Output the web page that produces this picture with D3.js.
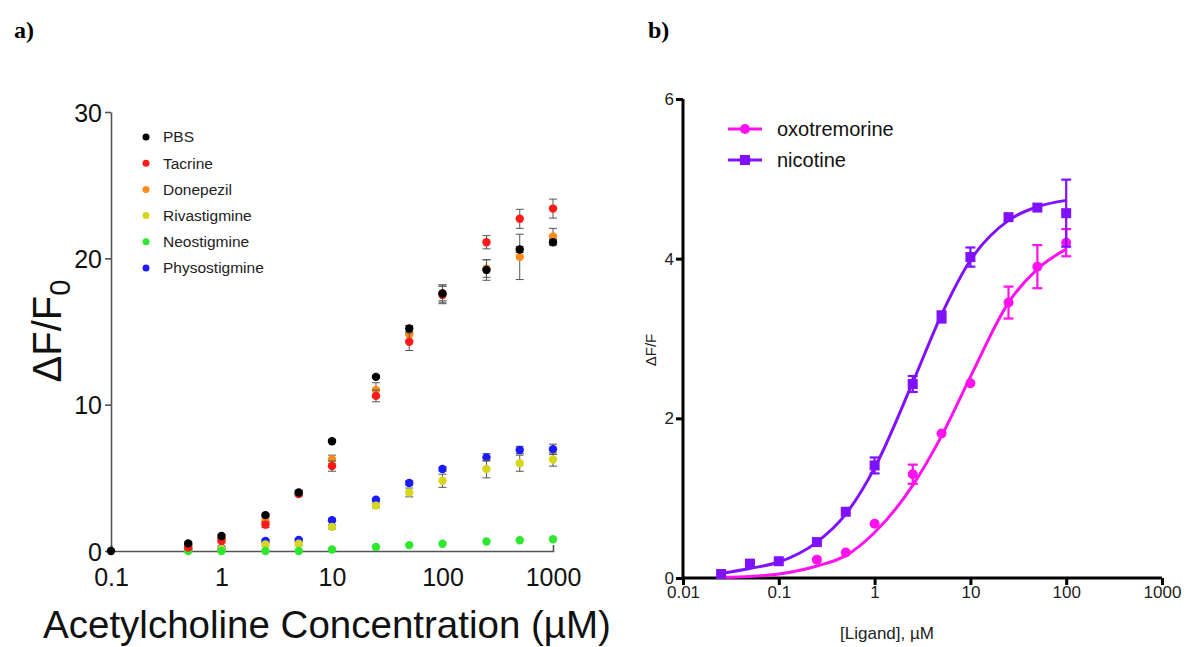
<!DOCTYPE html>
<html>
<head>
<meta charset="utf-8">
<script src="https://cdn.jsdelivr.net/npm/d3@7"></script>
<style>
  body { margin: 0; background: #fff; }
  svg { display: block; font-family: "Liberation Sans", Arial, sans-serif; }
</style>
</head>
<body>
<svg id="fig" width="1189" height="647"></svg>
<script>
// ---------- panel a data (acetylcholine, uM) ----------
var achConc = [0.1, 0.5, 1, 2.5, 5, 10, 25, 50, 100, 250, 500, 1000];
var pbsVals = [0, 0.52, 1.02, 2.45, 4.0, 7.5, 11.9, 15.2, 17.6, 19.2, 20.6, 21.1];
var pbsErr = [0, 0.1, 0.1, 0.1, 0.15, 0.1, 0.1, 0.2, 0.6, 0.7, 0.2, 0.2];
var tacVals = [null, 0.23, 0.7, 1.8, 3.9, 5.8, 10.6, 14.3, 17.5, 21.1, 22.7, 23.4];
var tacErr = [0, 0.1, 0.15, 0.2, 0.15, 0.35, 0.4, 0.6, 0.6, 0.45, 0.65, 0.65];
var donVals = [null, 0.35, 0.8, 2.05, 3.95, 6.25, 11.0, 14.8, 17.6, 19.3, 20.1, 21.5];
var donErr = [0, 0.1, 0.1, 0.2, 0.15, 0.3, 0.5, 0.4, 0.5, 0.6, 1.55, 0.55];
var rivVals = [null, 0.07, 0.15, 0.45, 0.5, 1.65, 3.1, 4.0, 4.8, 5.6, 6.0, 6.25];
var rivErr = [0, 0.05, 0.05, 0.1, 0.1, 0.15, 0.15, 0.3, 0.45, 0.6, 0.55, 0.45];
var neoVals = [null, 0, 0, 0, 0, 0.1, 0.27, 0.4, 0.5, 0.65, 0.73, 0.8];
var neoErr = [0, 0, 0, 0, 0, 0.03, 0.03, 0.04, 0.05, 0.05, 0.05, 0.05];
var physVals = [null, 0.1, 0.2, 0.68, 0.75, 2.1, 3.5, 4.65, 5.6, 6.4, 6.9, 6.95];
var physErr = [0, 0.05, 0.05, 0.1, 0.1, 0.1, 0.1, 0.15, 0.15, 0.25, 0.25, 0.35];

var aNames = ['PBS', 'Tacrine', 'Donepezil', 'Rivastigmine', 'Neostigmine', 'Physostigmine'];
var aColors = ['#000000', '#ff1a1a', '#ff8c1a', '#d6d61f', '#2ee82e', '#1a1aff'];
var aTicksX = [0.1, 1, 10, 100, 1000];
var aTicksY = [0, 10, 20, 30];

// ---------- panel b data (ligand, uM) ----------
var ligConc = [0.025, 0.05, 0.1, 0.25, 0.5, 1, 2.5, 5, 10, 25, 50, 100];
var nicVals = [0.05, 0.18, 0.21, 0.45, 0.83, 1.41, 2.43, 3.27, 4.02, 4.52, 4.64, 4.57];
var nicErr = [0.03, 0.05, 0.03, 0.04, 0.04, 0.1, 0.1, 0.07, 0.12, 0.05, 0.03, 0.42];
var nicFit = [0.06, 0.12, 0.2, 0.45, 0.8, 1.38, 2.45, 3.3, 3.98, 4.48, 4.65, 4.73];
var oxoVals = [null, null, null, 0.23, 0.32, 0.68, 1.3, 1.81, 2.44, 3.45, 3.9, 4.2];
var oxoErr = [0, 0, 0, 0.03, 0.03, 0.03, 0.12, 0.03, 0.03, 0.2, 0.27, 0.17];
var oxoFit = [0.01, 0.02, 0.05, 0.15, 0.28, 0.57, 1.16, 1.78, 2.52, 3.45, 3.87, 4.12];

var bNames = ['oxotremorine', 'nicotine'];
var bColors = ['#ff11f0', '#7f11ff'];
var bTicksX = [0.01, 0.1, 1, 10, 100, 1000];
var bTicksY = [0, 2, 4, 6];

var svg = d3.select('#fig');
var sans = '"Liberation Sans", Arial, sans-serif';

/////////////////////////////////////////////////
//////////////// panel a ////////////////////////
/////////////////////////////////////////////////
function panelA() {
    var x = d3.scaleLog().domain([0.1, 1000]).range([111, 553]);
    var y = d3.scaleLinear().domain([0, 30]).range([551, 112]);
    var g = svg.append('g');

    g.append('text').attr('x', 14).attr('y', 38)
        .style('font-family', '"Liberation Serif", serif').style('font-weight', 'bold')
        .style('font-size', '24px').text('a)');

    var ax = g.append('g').attr('transform', 'translate(0,551)')
        .call(d3.axisBottom(x).tickValues(aTicksX).tickFormat(d3.format('~g'))
            .tickSizeInner(0).tickSizeOuter(-6).tickPadding(17));
    var ay = g.append('g').attr('transform', 'translate(111,0)')
        .call(d3.axisLeft(y).tickValues(aTicksY).tickSizeInner(6).tickSizeOuter(0).tickPadding(3));
    [ax, ay].forEach(function (a) {
        a.attr('font-family', sans);
        a.selectAll('path,line').style('stroke', '#555').style('stroke-width', '1.6px');
        a.selectAll('text').attr('fill', '#111').style('font-size', '25px');
    });
    ay.selectAll('text').attr('dy', '0.36em');

    // series, drawn back to front so PBS sits on top
    var series = [
        {vals: physVals, err: physErr, c: 5},
        {vals: rivVals, err: rivErr, c: 3},
        {vals: neoVals, err: neoErr, c: 4},
        {vals: donVals, err: donErr, c: 2},
        {vals: tacVals, err: tacErr, c: 1},
        {vals: pbsVals, err: pbsErr, c: 0}
    ];
    series.forEach(function (s) {
        var pts = achConc.map(function (d, i) {
            return {x: d, y: s.vals[i], e: s.err[i]};
        }).filter(function (d) { return d.y !== null; });

        var eb = g.append('g').attr('stroke', '#555').attr('stroke-width', 1);
        pts.filter(function (d) { return d.e > 0.08; }).forEach(function (d) {
            var cx = x(d.x), y0 = y(d.y - d.e), y1 = y(d.y + d.e);
            eb.append('line').attr('x1', cx).attr('x2', cx).attr('y1', y0).attr('y2', y1);
            eb.append('line').attr('x1', cx - 4).attr('x2', cx + 4).attr('y1', y0).attr('y2', y0);
            eb.append('line').attr('x1', cx - 4).attr('x2', cx + 4).attr('y1', y1).attr('y2', y1);
        });
        g.append('g').selectAll('circle').data(pts).enter().append('circle')
            .attr('cx', function (d) { return x(d.x); })
            .attr('cy', function (d) { return y(d.y); })
            .attr('r', 4.2)
            .attr('fill', aColors[s.c]);
    });

    // legend
    var leg = g.append('g');
    aNames.forEach(function (n, i) {
        var ly = 137 + i * 26.2;
        leg.append('circle').attr('cx', 146).attr('cy', ly).attr('r', 3.5).attr('fill', aColors[i]);
        leg.append('text').attr('x', 163).attr('y', ly).attr('dy', '0.35em')
            .style('font-size', '15.5px').attr('fill', '#222').text(n);
    });

    // axis titles
    g.append('text').attr('transform', 'translate(61,331) rotate(-90)')
        .attr('text-anchor', 'middle').style('font-size', '40px').attr('fill', '#111')
        .text('\u0394F/F')
        .append('tspan').attr('dy', 9).style('font-size', '29px').text('0');
    g.append('text').attr('x', 327).attr('y', 638).attr('text-anchor', 'middle')
        .style('font-size', '38.5px').attr('fill', '#111')
        .text('Acetylcholine Concentration (\u00b5M)');
}

/////////////////////////////////////////////////
//////////////// panel b ////////////////////////
/////////////////////////////////////////////////
function panelB() {
    var x = d3.scaleLog().domain([0.01, 1000]).range([683, 1162]);
    var y = d3.scaleLinear().domain([0, 6]).range([578, 99]);
    var g = svg.append('g');

    g.append('text').attr('x', 648).attr('y', 38)
        .style('font-family', '"Liberation Serif", serif').style('font-weight', 'bold')
        .style('font-size', '24px').text('b)');

    var ax = g.append('g').attr('transform', 'translate(0,578)')
        .call(d3.axisBottom(x).tickValues(bTicksX).tickFormat(d3.format('~g'))
            .tickSizeInner(7).tickSizeOuter(0).tickPadding(1));
    var ay = g.append('g').attr('transform', 'translate(683,0)')
        .call(d3.axisLeft(y).tickValues(bTicksY).tickFormat(d3.format('d'))
            .tickSizeInner(7).tickSizeOuter(0).tickPadding(2));
    [ax, ay].forEach(function (a) {
        a.attr('font-family', sans);
        a.selectAll('path,line').style('stroke', '#000').style('stroke-width', '3px');
        a.selectAll('text').attr('fill', '#222').style('font-size', '17px');
    });
    ax.select('.domain').attr('d', 'M683,0H1162');
    ay.select('.domain').attr('d', 'M0,99V578');

    var line = d3.line()
        .x(function (d) { return x(d.x); })
        .y(function (d) { return y(d.y); })
        .curve(d3.curveMonotoneX);

    var series = [
        {vals: oxoVals, err: oxoErr, fit: oxoFit, c: 0, shape: 'circle'},
        {vals: nicVals, err: nicErr, fit: nicFit, c: 1, shape: 'square'}
    ];
    series.forEach(function (s) {
        var col = bColors[s.c];
        var fitPts = ligConc.map(function (d, i) { return {x: d, y: s.fit[i]}; });
        g.append('path').datum(fitPts).attr('d', line)
            .attr('fill', 'none').attr('stroke', col).attr('stroke-width', 3);

        var pts = ligConc.map(function (d, i) {
            return {x: d, y: s.vals[i], e: s.err[i]};
        }).filter(function (d) { return d.y !== null; });

        var eb = g.append('g').attr('stroke', col).attr('stroke-width', 2.2);
        pts.filter(function (d) { return d.e > 0.06; }).forEach(function (d) {
            var cx = x(d.x), y0 = y(d.y - d.e), y1 = y(d.y + d.e);
            eb.append('line').attr('x1', cx).attr('x2', cx).attr('y1', y0).attr('y2', y1);
            eb.append('line').attr('x1', cx - 5).attr('x2', cx + 5).attr('y1', y0).attr('y2', y0);
            eb.append('line').attr('x1', cx - 5).attr('x2', cx + 5).attr('y1', y1).attr('y2', y1);
        });
        var mk = g.append('g').attr('fill', col);
        pts.forEach(function (d) {
            if (s.shape === 'circle') {
                mk.append('circle').attr('cx', x(d.x)).attr('cy', y(d.y)).attr('r', 5);
            } else {
                mk.append('rect').attr('x', x(d.x) - 5).attr('y', y(d.y) - 5)
                    .attr('width', 10).attr('height', 10);
            }
        });
    });

    // legend
    bNames.forEach(function (n, i) {
        var ly = 129 + i * 31, col = bColors[i];
        g.append('line').attr('x1', 728).attr('x2', 762).attr('y1', ly).attr('y2', ly)
            .attr('stroke', col).attr('stroke-width', 3);
        if (i === 0) {
            g.append('circle').attr('cx', 745).attr('cy', ly).attr('r', 5).attr('fill', col);
        } else {
            g.append('rect').attr('x', 740).attr('y', ly - 5).attr('width', 10).attr('height', 10).attr('fill', col);
        }
        g.append('text').attr('x', 777).attr('y', ly).attr('dy', '0.35em')
            .style('font-size', '20px').attr('fill', '#111').text(n);
    });

    g.append('text').attr('transform', 'translate(656,350) rotate(-90)')
        .attr('text-anchor', 'middle').style('font-size', '15px').attr('fill', '#222')
        .text('\u0394F/F');
    g.append('text').attr('x', 887).attr('y', 639).attr('text-anchor', 'middle')
        .style('font-size', '17px').attr('fill', '#222').text('[Ligand], \u00b5M');
}

panelA();
panelB();
</script>
</body>
</html>
